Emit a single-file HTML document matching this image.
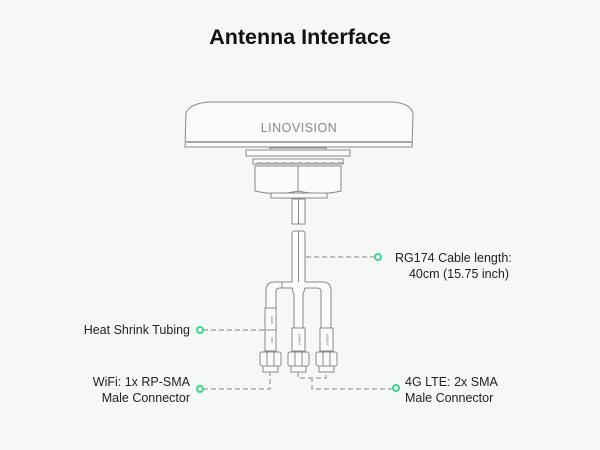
<!DOCTYPE html>
<html><head><meta charset="utf-8"><style>
html,body{margin:0;padding:0;background:#f6f7f7;}
svg{display:block}
text{font-family:"Liberation Sans","Noto Sans CJK SC",sans-serif;}
</style></head><body>
<svg width="600" height="450" viewBox="0 0 600 450" xmlns="http://www.w3.org/2000/svg">
<rect width="600" height="450" fill="#f6f7f7"/>
<text x="300" y="44" text-anchor="middle" font-size="21.5" font-weight="bold" fill="#111">Antenna Interface</text>
<g fill="#fbfbfb" stroke="#888" stroke-width="1">
 <!-- dome -->
 <path d="M186,113 Q190,103 210,102 L392,102 Q410,103 413,113 L412,147 L185,147 Z"/>
 <line x1="186" y1="142" x2="412" y2="142" stroke-width="1.5"/>
 <!-- flange -->
 <rect x="270" y="148" width="56" height="3"/>
 <rect x="246" y="150" width="104" height="6"/>
 <rect x="253" y="159" width="90" height="5"/>
 <path d="M256,164 q4,-3 8,0 q4,-3 8,0 q4,-3 8,0 q4,-3 8,0 q4,-3 8,0 q4,-3 8,0 q4,-3 8,0 q4,-3 8,0 q4,-3 8,0 q4,-3 8,0 q4,-3 8,0" fill="none" stroke-width="0.7"/>
 <path d="M255,166 L341,166 L341,191 Q320,196 298,191 Q276,196 255,191 Z"/>
 <line x1="298" y1="166" x2="298" y2="192"/>
 <rect x="271" y="193" width="56" height="5"/>
 <!-- cable top -->
 <rect x="292" y="199" width="13" height="25"/>
 <line x1="298.5" y1="199" x2="298.5" y2="224"/>
 <path d="M292,282 L292,234 Q292,231 295,231 L302,231 Q305,231 305,234 L305,282"/>
 <line x1="298.5" y1="231" x2="298.5" y2="290"/>
 <!-- split -->
 <path d="M292,282 L274,282 Q266,282 266,291 L266,308 L276,308 L276,291 Q276,288 280,288 L292,288 L294,295 L294,328 L303,328 L303,295 L305,288 L317,288 Q321,288 321,291 L321,328 L331,328 L331,291 Q331,282 323,282 L305,282"/>
 <line x1="282" y1="282" x2="282" y2="288"/>
 <!-- sleeves -->
 <rect x="265" y="308" width="11" height="22"/>
 <rect x="265" y="330" width="11" height="21"/>
 <rect x="292" y="328" width="13" height="23"/>
 <rect x="320" y="328" width="13" height="23"/>
 <!-- nuts -->
 <g>
  <rect x="260" y="352" width="21" height="14" rx="2"/>
  <line x1="267" y1="352" x2="267" y2="366"/><line x1="274" y1="352" x2="274" y2="366"/>
  <rect x="263" y="366" width="15" height="6"/>
 </g>
 <g transform="translate(28,0)"><rect x="260" y="352" width="21" height="14" rx="2"/><line x1="267" y1="352" x2="267" y2="366"/><line x1="274" y1="352" x2="274" y2="366"/><rect x="263" y="366" width="15" height="6"/></g>
 <g transform="translate(56,0)"><rect x="260" y="352" width="21" height="14" rx="2"/><line x1="267" y1="352" x2="267" y2="366"/><line x1="274" y1="352" x2="274" y2="366"/><rect x="263" y="366" width="15" height="6"/></g>
</g>
<text x="299" y="132" text-anchor="middle" font-size="12.5" fill="#888" letter-spacing="0.5">LINOVISION</text>
<g font-size="3" fill="#666" text-anchor="middle">
 <text transform="translate(271,320) rotate(90)">MAIN</text>
 <text transform="translate(271,340) rotate(90)">WIFI</text>
 <text transform="translate(298.5,340) rotate(90)">MOBILE</text>
 <text transform="translate(326.5,340) rotate(90)">MOBILE</text>
</g>
<g stroke="#aaa" stroke-width="1.5" stroke-dasharray="5,3" fill="none">
 <path d="M306,257 L375,257"/>
 <path d="M203,330 L265,330"/>
 <path d="M203,389 L270,389 L270,372"/>
 <path d="M393,389 L312,389 L312,378 M298,372 L298,378 L326,378 L326,372"/>
</g>
<g fill="#f6f7f7" stroke="#3dd68c" stroke-width="2">
 <circle cx="378" cy="257" r="3"/>
 <circle cx="200" cy="330" r="3"/>
 <circle cx="200" cy="389" r="3"/>
 <circle cx="396" cy="388" r="3"/>
</g>
<g font-size="12.5" fill="#222">
 <text x="395" y="262">RG174 Cable length:</text>
 <text x="509" y="278" text-anchor="end">40cm (15.75 inch)</text>
 <text x="190" y="334" text-anchor="end">Heat Shrink Tubing</text>
 <text x="190" y="386" text-anchor="end">WiFi:  1x RP-SMA</text>
 <text x="190" y="402" text-anchor="end">Male Connector</text>
 <text x="405" y="386">4G LTE:  2x SMA</text>
 <text x="405" y="402">Male Connector</text>
</g>
</svg>
</body></html>
